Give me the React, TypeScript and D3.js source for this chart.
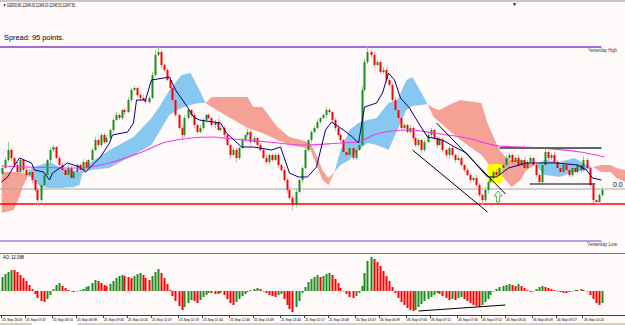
import React from 'react';
import * as d3 from 'd3';

// M1 closes, one per bar
const closes = [
  12332, 12340, 12350, 12342, 12335, 12328, 12340, 12330, 12325, 12328,
  12320, 12310, 12300, 12315, 12325, 12340, 12350, 12353, 12342, 12335,
  12330, 12325, 12332, 12322, 12328, 12335, 12330, 12338, 12332, 12340,
  12350, 12360, 12355, 12365, 12358, 12362, 12370, 12380, 12385, 12382,
  12390, 12388, 12400, 12410, 12412, 12405, 12402, 12400, 12398, 12402,
  12425, 12445, 12448, 12435, 12430, 12420, 12412, 12400, 12385, 12372,
  12365, 12382, 12390, 12385, 12375, 12368, 12372, 12380, 12385, 12382,
  12375, 12378, 12370, 12372, 12365, 12355, 12345, 12350, 12342, 12352,
  12360, 12365, 12368, 12358, 12362, 12355, 12350, 12342, 12338, 12345,
  12340, 12345, 12335, 12330, 12320, 12310, 12302, 12295, 12308, 12320,
  12332, 12350, 12360, 12368, 12372, 12378, 12382, 12385, 12390, 12388,
  12380, 12372, 12365, 12360, 12348, 12345, 12352, 12342, 12350, 12355,
  12410, 12438, 12448, 12445, 12435, 12438, 12428, 12430, 12420, 12415,
  12400, 12390, 12382, 12372, 12375, 12368, 12372, 12362, 12355, 12360,
  12350, 12358, 12365, 12370, 12362, 12355, 12360, 12350, 12345, 12352,
  12345, 12340, 12342, 12335, 12330, 12325, 12320, 12322, 12315, 12305,
  12300, 12310, 12318, 12322, 12328, 12325, 12332, 12335, 12342, 12345,
  12338, 12342, 12335, 12340, 12332, 12338, 12342, 12335, 12325, 12318,
  12335, 12348, 12342, 12345, 12338, 12332, 12328, 12335, 12330, 12325,
  12332, 12328, 12335, 12330, 12340, 12332, 12315, 12300, 12298, 12305, 12310,
];
const firstOpen = 12326;

// points of wick beyond the body
const wickHi = [
  2, 3, 8, 2, 1, 3, 2, 1, 2, 3, 2, 1, 2, 3, 2, 1, 3, 2, 1, 2,
  2, 1, 3, 2, 1, 2, 1, 3, 2, 1, 2, 3, 1, 2, 2, 3, 1, 2, 3, 2,
  1, 2, 3, 2, 2, 1, 2, 3, 1, 2, 3, 5, 5, 2, 1, 2, 3, 1, 2, 1,
  2, 3, 2, 1, 2, 1, 3, 2, 1, 2, 1, 2, 3, 1, 2, 2, 1, 3, 2, 1,
  2, 1, 3, 2, 2, 1, 2, 1, 3, 2, 1, 2, 2, 1, 3, 2, 1, 2, 3, 1,
  2, 3, 1, 2, 2, 3, 1, 2, 3, 2, 1, 2, 3, 2, 1, 2, 3, 1, 2, 2,
  4, 3, 5, 2, 3, 2, 1, 3, 2, 1, 2, 3, 1, 2, 2, 1, 3, 2, 1, 2,
  1, 2, 3, 2, 1, 2, 3, 2, 1, 2, 2, 1, 3, 2, 1, 2, 2, 1, 3, 2,
  2, 3, 1, 2, 2, 3, 1, 2, 3, 2, 1, 2, 3, 1, 2, 2, 3, 1, 2, 2,
  2, 4, 1, 2, 3, 2, 1, 2, 3, 1, 2, 3, 1, 2, 4, 2, 1, 2, 1, 2, 3,
];
const wickLo = [
  2, 1, 2, 3, 1, 2, 2, 3, 1, 2, 3, 2, 5, 2, 1, 2, 3, 2, 1, 2,
  1, 3, 2, 2, 1, 3, 2, 1, 2, 2, 2, 1, 3, 2, 2, 1, 2, 3, 1, 2,
  2, 3, 1, 2, 1, 2, 3, 1, 2, 2, 1, 2, 1, 3, 2, 1, 2, 3, 2, 2,
  5, 2, 1, 2, 3, 2, 1, 2, 3, 1, 2, 3, 1, 2, 2, 1, 3, 2, 4, 2,
  1, 2, 2, 3, 1, 2, 2, 1, 2, 3, 2, 1, 3, 2, 2, 3, 2, 5, 2, 1,
  2, 1, 2, 3, 1, 2, 2, 1, 3, 2, 2, 3, 1, 2, 2, 3, 1, 2, 2, 1,
  2, 1, 2, 3, 2, 1, 2, 2, 3, 1, 2, 1, 3, 2, 2, 1, 2, 3, 2, 1,
  3, 2, 1, 2, 2, 3, 1, 2, 2, 4, 2, 3, 1, 2, 2, 1, 3, 2, 2, 2,
  5, 2, 3, 1, 2, 2, 1, 3, 2, 2, 2, 1, 2, 3, 1, 2, 2, 1, 2, 3,
  2, 1, 3, 2, 2, 1, 2, 3, 1, 2, 2, 1, 2, 3, 2, 1, 2, 3, 2, 3, 2,
];

// Awesome Oscillator
const aoValues = [
  14, 17, 19, 21, 21, 19, 16, 13, 10, 6,
  2, -3, -7, -10, -11, -8, -4, 2, 6, 8,
  5, 3, 1, 0, -1, 0, 1, 2, 4, 5,
  8, 11, 10, 8, 6, 5, 7, 10, 13, 15,
  16, 15, 14, 13, 15, 17, 18, 16, 13, 11,
  15, 19, 22, 18, 13, 7, 1, -5, -10, -15,
  -19, -16, -12, -9, -10, -12, -9, -6, -4, -2,
  -2, -3, -3, -2, -4, -8, -12, -14, -11, -8,
  -5, -3, -1, 1, 2, 3, 2, 0, -2, -4,
  -5, -6, -4, -3, -8, -14, -18, -21, -16, -10,
  -2, 4, 9, 12, 14, 16, 14, 15, 17, 18,
  16, 12, 8, 3, 0, -3, -6, -7, -5, -2,
  5, 18, 30, 34, 32, 29, 25, 20, 15, 10,
  4, -2, -7, -11, -14, -17, -19, -20, -19, -16,
  -13, -10, -8, -6, -4, -2, -3, -5, -7, -9,
  -8, -9, -7, -6, -8, -10, -12, -14, -15, -16,
  -14, -11, -8, -4, 0, 2, 4, 5, 6, 7,
  6, 5, 7, 5, 3, 1, -1, 0, 2, 4,
  5, 4, 3, 2, 1, 0, -1, -2, -2, -1,
  0, 1, 1, 2, 1, 0, -4, -8, -12, -14, -12,
];

const tenkanBars = [0, 2, 4, 6, 10, 11, 14, 16, 17, 22, 26, 28, 33, 36, 37, 42, 44, 45, 48, 50, 54, 56, 58, 62, 64, 66, 73, 75, 80, 84, 90, 93, 96, 99, 102, 105, 108, 110, 114, 117, 119, 121, 125, 127, 129, 131, 133, 136, 139, 142, 147, 151, 155, 159, 162, 165, 169, 175, 180, 185, 192, 195, 197, 200];
const tenkanVals = [12318, 12323, 12333, 12342, 12337, 12330, 12328, 12320, 12327, 12337, 12333, 12328, 12343, 12357, 12365, 12368, 12377, 12400, 12400, 12420, 12422, 12423, 12410, 12393, 12383, 12380, 12377, 12367, 12353, 12353, 12350, 12353, 12327, 12323, 12323, 12333, 12370, 12378, 12370, 12363, 12357, 12393, 12397, 12407, 12427, 12420, 12402, 12392, 12377, 12363, 12360, 12353, 12347, 12333, 12323, 12323, 12332, 12337, 12337, 12337, 12335, 12330, 12322, 12320];

const maBars = [0, 25, 36, 46, 55, 70, 77, 89, 100, 113, 119, 124, 130, 136, 144, 155, 166, 180, 193, 201];
const maVals = [12334, 12332, 12337, 12347, 12358, 12363, 12361, 12358, 12355, 12357, 12358, 12365, 12369, 12370, 12367, 12362, 12354, 12352, 12348, 12343];

const cloudBars = [0, 4, 6, 7, 9, 10, 13, 16, 20, 24, 26, 27, 30, 36, 44, 50, 53, 56, 60, 63, 66, 68, 70, 82, 84, 87, 92, 96, 100, 103, 105, 107, 109, 111, 113, 116, 119, 122, 125, 129, 132, 135, 137, 140, 142, 144, 146, 149, 153, 160, 162, 164, 166, 168, 170, 173, 175, 178, 181, 186, 191, 195, 197, 200, 203, 205, 208];
const spanA = [12287, 12290, 12303, 12313, 12325, 12332, 12335, 12338, 12332, 12330, 12328, 12330, 12338, 12350, 12363, 12382, 12395, 12410, 12425, 12427, 12410, 12397, 12393, 12372, 12370, 12367, 12360, 12355, 12353, 12350, 12335, 12320, 12315, 12328, 12350, 12370, 12377, 12380, 12382, 12397, 12400, 12420, 12423, 12407, 12396, 12383, 12378, 12370, 12360, 12345, 12337, 12332, 12327, 12320, 12313, 12320, 12330, 12335, 12340, 12338, 12342, 12335, 12333, 12328, 12328, 12322, 12318];
const spanB = [12328, 12328, 12328, 12327, 12326, 12322, 12313, 12312, 12312, 12313, 12315, 12327, 12330, 12332, 12345, 12355, 12370, 12385, 12392, 12395, 12397, 12397, 12403, 12403, 12393, 12393, 12373, 12363, 12360, 12357, 12345, 12330, 12322, 12328, 12335, 12340, 12350, 12357, 12355, 12350, 12370, 12390, 12394, 12395, 12396, 12392, 12390, 12395, 12400, 12397, 12377, 12363, 12350, 12343, 12340, 12340, 12338, 12335, 12325, 12323, 12328, 12330, 12333, 12335, 12335, 12332, 12330];

const yesterdayHigh = 12453;
const yesterdayLow = 12259;
const redLevel = 12296;
const fiboZero = 12311;

const channelLines = [
  { b0: 137, p0: 12350, b1: 162, p1: 12288 },
  { b0: 145, p0: 12377, b1: 168, p1: 12306 },
];
const rangeTop = { b0: 166, b1: 200, p: 12352 };
const rangeBottom = { b0: 176, b1: 198, p: 12316 };
const aoDivergence = { b0: 139, v0: -20, b1: 168, v1: -14 };
const highlight = { b0: 162, b1: 167, p0: 12336, p1: 12317 };
const arrowBar = 165.5;
const arrowTop = 12309;
const arrowBottom = 12298;

const timeLabelBars = [0, 8, 17, 25, 34, 42, 50, 59, 67, 76, 84, 93, 101, 109, 118, 126, 135, 143, 152, 160, 168, 177, 185, 194];
const timeLabels = [
  '25 Sep 2018', '25 Sep 07:47', '25 Sep 08:10', '25 Sep 08:38', '25 Sep 09:30', '25 Sep 10:16',
  '25 Sep 11:07', '25 Sep 11:19', '25 Sep 11:44', '25 Sep 12:46', '25 Sep 13:49', '25 Sep 14:44',
  '25 Sep 15:17', '25 Sep 16:08', '25 Sep 16:47', '26 Sep 06:39', '26 Sep 07:06', '26 Sep 07:12',
  '26 Sep 07:30', '26 Sep 07:52', '26 Sep 08:20', '26 Sep 08:49', '26 Sep 09:27', '26 Sep 10:24',
];

const UP = '#1e8c1e';
const DOWN = '#ff0000';
const font = 'Liberation Sans, Arial, sans-serif';

export default function App() {
  const x = d3.scaleLinear().domain([0, 200]).range([1.5, 601.5]);
  const y = d3.scaleLinear().domain([12247, 12460]).range([253, 40]);
  const yAo = d3.scaleLinear().domain([-24, 37]).range([315, 254]);

  const bars = closes.map((c, i) => {
    const o = i === 0 ? firstOpen : closes[i - 1];
    return { i, o, c, h: Math.max(o, c) + wickHi[i], l: Math.min(o, c) - wickLo[i] };
  });

  const cloud = cloudBars.map((b, k) => ({ i: b, a: spanA[k], b: spanB[k] }));
  const band = d3.area<any>().x(d => x(d.i)).y0(d => y(d.a)).y1(d => y(d.b));
  const aboveB = d3.area<any>().x(d => x(d.i)).y0(40).y1(d => y(d.b));
  const belowB = d3.area<any>().x(d => x(d.i)).y0(253).y1(d => y(d.b));

  const tenkanLine = d3.line<number>().x((b) => x(b)).y((_, k) => y(tenkanVals[k]))(tenkanBars);
  const maLine = d3.line<number>().x((b) => x(b)).y((_, k) => y(maVals[k])).curve(d3.curveMonotoneX)(maBars);

  const ax = x(arrowBar);
  const at = y(arrowTop);
  const ab = y(arrowBottom);
  const arrowPath = `M${ax},${at} L${ax + 4},${at + 5} L${ax + 1.6},${at + 5} L${ax + 1.6},${ab} L${ax - 1.6},${ab} L${ax - 1.6},${at + 5} L${ax - 4},${at + 5} Z`;

  return (
    <svg width={625} height={325} style={{ position: 'absolute', left: 0, top: 0, background: '#fffafa' }}>
      <defs>
        <clipPath id="aboveB"><path d={aboveB(cloud) || ''} /></clipPath>
        <clipPath id="belowB"><path d={belowB(cloud) || ''} /></clipPath>
      </defs>
      <rect x={0} y={0} width={625} height={325} fill="#fffafa" />
      <rect x={0} y={0} width={625} height={2} fill="#c8c8c8" />
      <text x={3} y={7} fontSize={5} fontFamily={font} fill="#000" textLength={72} lengthAdjust="spacingAndGlyphs">▼ GER30,M1 12346.00 12346.00 12345.53 12347.50</text>
      <text x={512} y={6} fontSize={5} fontFamily={font} fill="#000">▼</text>

      {/* ichimoku cloud */}
      <path d={band(cloud) || ''} fill="#86c8f2" clipPath="url(#aboveB)" />
      <path d={band(cloud) || ''} fill="#f5a196" clipPath="url(#belowB)" />

      {/* horizontal levels */}
      <line x1={0} x2={x(200)} y1={y(yesterdayHigh)} y2={y(yesterdayHigh)} stroke="#8a3dc8" strokeWidth={1.5} />
      <line x1={0} x2={x(200)} y1={y(yesterdayLow)} y2={y(yesterdayLow)} stroke="#a67be0" strokeWidth={1.5} />
      <line x1={0} x2={625} y1={y(fiboZero)} y2={y(fiboZero)} stroke="#a8a8a8" strokeWidth={1} />
      <line x1={0} x2={625} y1={y(redLevel)} y2={y(redLevel)} stroke="#ff0000" strokeWidth={1.5} />
      <text x={588} y={52} fontSize={5} fontFamily={font} fill="#333" textLength={29} lengthAdjust="spacingAndGlyphs">Yesterday High</text>
      <text x={587} y={246} fontSize={5} fontFamily={font} fill="#333" textLength={30} lengthAdjust="spacingAndGlyphs">Yesterday Low</text>
      <text x={613} y={187} fontSize={7} fontFamily={font} fill="#000">0.0</text>

      {/* yellow highlight */}
      <rect x={x(highlight.b0)} y={y(highlight.p0)} width={x(highlight.b1) - x(highlight.b0)} height={y(highlight.p1) - y(highlight.p0)} rx={3} fill="#ffff00" />

      {/* candles */}
      {bars.map(d => {
        const up = d.c >= d.o;
        const cx = Math.round(x(d.i)) + 0.5;
        const top = y(Math.max(d.o, d.c));
        const bot = y(Math.min(d.o, d.c));
        return (
          <g key={d.i}>
            <line x1={cx} x2={cx} y1={y(d.h)} y2={y(d.l)} stroke={up ? '#8fd08f' : '#ff9a9a'} strokeWidth={1} />
            <rect x={cx - 1} y={top} width={2} height={Math.max(1, bot - top)} fill={up ? UP : DOWN} />
          </g>
        );
      })}

      {/* indicator lines */}
      <path d={maLine || ''} fill="none" stroke="#ee3cee" strokeWidth={1.2} />
      <path d={tenkanLine || ''} fill="none" stroke="#000080" strokeWidth={1} />

      {/* drawn objects */}
      {channelLines.map((l, k) => (
        <line key={k} x1={x(l.b0)} y1={y(l.p0)} x2={x(l.b1)} y2={y(l.p1)} stroke="#000" strokeWidth={1} />
      ))}
      <line x1={x(rangeTop.b0)} x2={x(rangeTop.b1)} y1={y(rangeTop.p)} y2={y(rangeTop.p)} stroke="#666" strokeWidth={2} />
      <line x1={x(rangeBottom.b0)} x2={x(rangeBottom.b1)} y1={y(rangeBottom.p)} y2={y(rangeBottom.p)} stroke="#000" strokeWidth={1} />
      <path d={arrowPath} fill="#fffafa" stroke="#2a9a2a" strokeWidth={0.8} />

      <text x={4} y={40} fontSize={8} fontFamily={font} fill="#000" textLength={60} lengthAdjust="spacingAndGlyphs">Spread: 95 points.</text>

      {/* AO panel */}
      <line x1={0} x2={625} y1={253.5} y2={253.5} stroke="#7a7a7a" strokeWidth={1} />
      <text x={3} y={259} fontSize={5} fontFamily={font} fill="#000" textLength={21} lengthAdjust="spacingAndGlyphs">AO: 12.088</text>
      {aoValues.map((v, i) => {
        const up = i > 0 ? v > aoValues[i - 1] : true;
        const y0 = yAo(0);
        const y1 = yAo(v);
        return (
          <rect key={i} x={Math.round(x(i)) - 0.5} y={Math.min(y0, y1)} width={2} height={Math.max(0.5, Math.abs(y1 - y0))} fill={up ? UP : DOWN} />
        );
      })}
      <line x1={x(aoDivergence.b0)} y1={yAo(aoDivergence.v0)} x2={x(aoDivergence.b1)} y2={yAo(aoDivergence.v1)} stroke="#000" strokeWidth={1.2} />

      {/* time axis */}
      <line x1={0} x2={625} y1={315.5} y2={315.5} stroke="#404040" strokeWidth={1} />
      {timeLabelBars.map((b, k) => (
        <g key={k}>
          <line x1={Math.round(x(b)) - 0.5} x2={Math.round(x(b)) - 0.5} y1={316} y2={318} stroke="#404040" />
          <text x={x(b) + 0.5} y={321} fontSize={3.6} fontFamily={font} fill="#000" textLength={20} lengthAdjust="spacingAndGlyphs">{timeLabels[k]}</text>
        </g>
      ))}
      <rect x={0} y={323} width={625} height={2} fill="#d4d0c8" />
      <rect x={32} y={323} width={45} height={2} fill="#ffffff" />
    </svg>
  );
}
